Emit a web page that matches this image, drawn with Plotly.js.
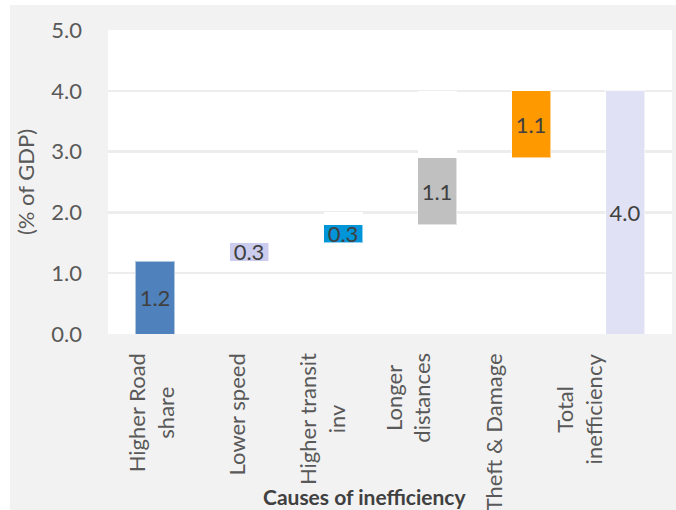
<!DOCTYPE html>
<html><head><meta charset="utf-8">
<script src="https://cdn.plot.ly/plotly-3.0.1.min.js"></script>
<style>html,body{margin:0;padding:0;background:#fff}#chart{width:676px;height:510px}</style>
</head><body><div id="chart"></div>
<script>
const categories = ["Higher Road<br>share", "Lower speed", "Higher transit<br>inv", "Longer<br>distances", "Theft & Damage", "Total<br>inefficiency"];
const baseValues = [0, 1.2, 1.5, 1.8, 2.9, 0];
const causeValues = [1.2, 0.3, 0.3, 1.1, 1.1, 4.0];
const capValues = [0, 0, 0.2, 1.1, 1.0, 0];
const barColors = ["#4f81bd", "#ccccee", "#0095d9", "#c0c0c0", "#ff9900", "#e0e1f4"];
const yTickValues = [0, 1, 2, 3, 4, 5];
const yTickLabels = ["0.0", "1.0", "2.0", "3.0", "4.0", "5.0"];
const chartTitle = "Logistics Inefficiency Costs for the Indian Economy";
const xTitle = "Causes of inefficiency";
const yTitle = "(% of GDP)";

const FONT = "Lato, 'Open Sans', sans-serif";
const TEXT = "#595959";
const LABEL_STEP = 0.1518;

const traces = [
  {type: "bar", x: categories, y: baseValues, marker: {color: "rgba(0,0,0,0)"}, hoverinfo: "skip", showlegend: false},
  {type: "bar", x: categories, y: causeValues,
   marker: {color: barColors, line: {color: "rgba(255,255,255,0.55)", width: 1}},
   text: causeValues.map(v => v.toFixed(1)), textposition: "inside", insidetextanchor: "middle",
   constraintext: "none", textfont: {family: FONT, size: 22, color: "#404040"}, showlegend: false},
  {type: "bar", x: categories, y: capValues, marker: {color: "#ffffff"}, hoverinfo: "skip", showlegend: false}
];

const annotations = categories.map((c, i) => ({
  text: c, xref: "paper", yref: "paper", x: (i + 0.5) * LABEL_STEP, y: 0, yshift: -17,
  xanchor: "center", yanchor: "top", textangle: -90, align: "center", showarrow: false,
  font: {family: FONT, size: 22, color: TEXT}
}));
annotations.push({text: "<b>" + xTitle + "</b>", xref: "paper", yref: "paper", x: 0.455, y: -0.536,
  xanchor: "center", yanchor: "middle", showarrow: false, font: {family: FONT, size: 21, color: "#404040"}});
annotations.push({text: "<b>" + chartTitle + "</b>", xref: "paper", yref: "paper", x: -0.005, y: 1.097,
  xanchor: "left", yanchor: "bottom", showarrow: false, font: {family: FONT, size: 20, color: "#1f3c8f"}});

const layout = {
  width: 676, height: 510,
  margin: {l: 108, r: 4, t: 30, b: 176},
  paper_bgcolor: "#ffffff", plot_bgcolor: "#ffffff",
  barmode: "stack", bargap: 0.585,
  font: {family: FONT, color: TEXT},
  xaxis: {type: "category", showticklabels: false, showgrid: false, zeroline: false, showline: false, fixedrange: true},
  yaxis: {range: [0, 5], tickvals: yTickValues, ticktext: yTickLabels, showgrid: true, gridcolor: "#ededed", gridwidth: 2.5,
    zeroline: false, showline: false, ticks: "", ticklabelstandoff: 25,
    tickfont: {family: FONT, size: 22, color: TEXT},
    title: {text: yTitle, font: {family: FONT, size: 22, color: TEXT}, standoff: 10}},
  shapes: [
    {type: "rect", xref: "paper", yref: "paper", x0: -0.1738, x1: 1.01, y0: -0.6, y1: 1.0822,
     fillcolor: "#f2f2f2", line: {width: 0}, layer: "below"},
    {type: "rect", xref: "paper", yref: "paper", x0: 0, x1: 1, y0: 0, y1: 1,
     fillcolor: "#ffffff", line: {width: 0}, layer: "below"}
  ],
  annotations: annotations,
  showlegend: false
};
Plotly.newPlot("chart", traces, layout, {displayModeBar: false, staticPlot: true});
</script></body></html>
